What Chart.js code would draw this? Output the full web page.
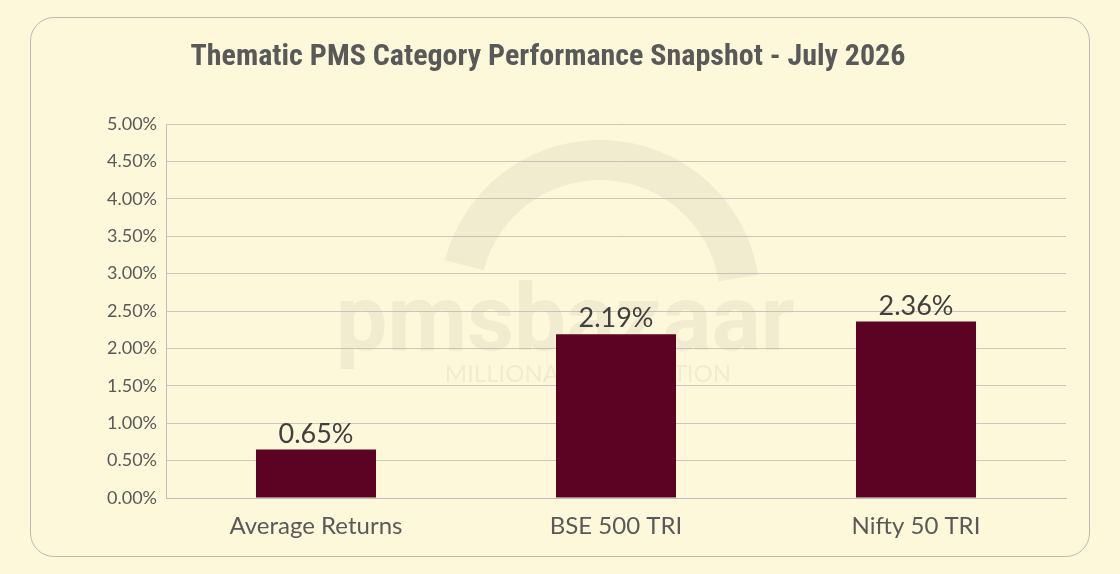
<!DOCTYPE html>
<html>
<head>
<meta charset="utf-8">
<script src="https://cdn.jsdelivr.net/npm/chart.js@4.4.0/dist/chart.umd.min.js"></script>
<style>
  html, body { margin: 0; padding: 0; background: #FEF8DA; }
  #wrap { position: relative; width: 1120px; height: 574px; }
  #frame { position: absolute; left: 30px; top: 17px; width: 1058px; height: 538px;
           border: 1px solid #BDBAB0; border-radius: 24px; }
  #c { position: absolute; left: 0; top: 0; }
</style>
</head>
<body>
<div id="wrap">
  <div id="frame"></div>
  <canvas id="c" width="1120" height="574"></canvas>
</div>
<script>
// data
const categories = ["Average Returns", "BSE 500 TRI", "Nifty 50 TRI"];
const returns = [0.65, 2.19, 2.36];
const yTicks = [0, 0.5, 1, 1.5, 2, 2.5, 3, 3.5, 4, 4.5, 5];

const barColor = "#5C0323";

// faint logo in the back
const watermark = {
  id: "watermark",
  beforeDatasetsDraw(chart) {
    const ctx = chart.ctx;
    ctx.save();
    ctx.fillStyle = "rgba(190,185,165,0.2)";
    ctx.strokeStyle = "rgba(190,185,165,0.2)";
    ctx.lineWidth = 40;
    ctx.beginPath();
    ctx.arc(600, 300, 140, Math.PI * 1.08, Math.PI * 1.95);
    ctx.stroke();
    ctx.font = "bold 92px 'Liberation Sans Narrow', 'Roboto', sans-serif";
    ctx.textAlign = "center";
    ctx.textBaseline = "alphabetic";
    ctx.fillText("pmsbazaar", 565, 350);
    ctx.font = "24px 'Lato', sans-serif";
    ctx.fillText("MILLIONAIRE IN MOTION", 588, 382);
    ctx.restore();
  }
};

// value labels over bars
const valueLabels = {
  id: "valueLabels",
  afterDatasetsDraw(chart) {
    const ctx = chart.ctx;
    const meta = chart.getDatasetMeta(0);
    ctx.save();
    ctx.fillStyle = "#404040";
    ctx.font = "27px Lato, 'Open Sans', sans-serif";
    ctx.textAlign = "center";
    ctx.textBaseline = "bottom";
    meta.data.forEach((bar, i) => {
      ctx.fillText(returns[i].toFixed(2) + "%", bar.x, bar.y - 2);
    });
    ctx.restore();
  }
};

new Chart("c", {
  type: "bar",
  data: {
    labels: categories,
    datasets: [{
      data: returns,
      backgroundColor: barColor,
      borderWidth: 0,
      barPercentage: 0.4,
      categoryPercentage: 1.0
    }]
  },
  options: {
    responsive: false,
    animation: false,
    layout: { padding: { left: 30, right: 54, top: 0, bottom: 24 } },
    plugins: {
      legend: { display: false },
      tooltip: { enabled: false },
      title: {
        display: true,
        text: "Thematic PMS Category Performance Snapshot - July 2026",
        color: "#595959",
        font: { family: "'Liberation Sans Narrow', 'Roboto Condensed', 'Roboto', sans-serif", size: 30, weight: "bold" },
        padding: { top: 39, bottom: 49 }
      }
    },
    scales: {
      x: {
        grid: { display: false },
        border: { color: "#BFBFBF" },
        ticks: { color: "#595959", font: { family: "Lato, 'Open Sans', sans-serif", size: 24 }, padding: 6 },
        afterFit(s) { s.height = 52; }
      },
      y: {
        min: 0,
        max: 5,
        afterBuildTicks(s) { s.ticks = yTicks.map(v => ({ value: v })); },
        grid: { color: "#C9C6BC", drawTicks: false },
        border: { color: "#BFBFBF" },
        ticks: {
          color: "#595959",
          font: { family: "Lato, 'Open Sans', sans-serif", size: 18 },
          padding: 9,
          callback: v => v.toFixed(2) + "%"
        },
        afterFit(s) { s.width = 136; }
      }
    }
  },
  plugins: [watermark, valueLabels]
});
</script>
</body>
</html>
